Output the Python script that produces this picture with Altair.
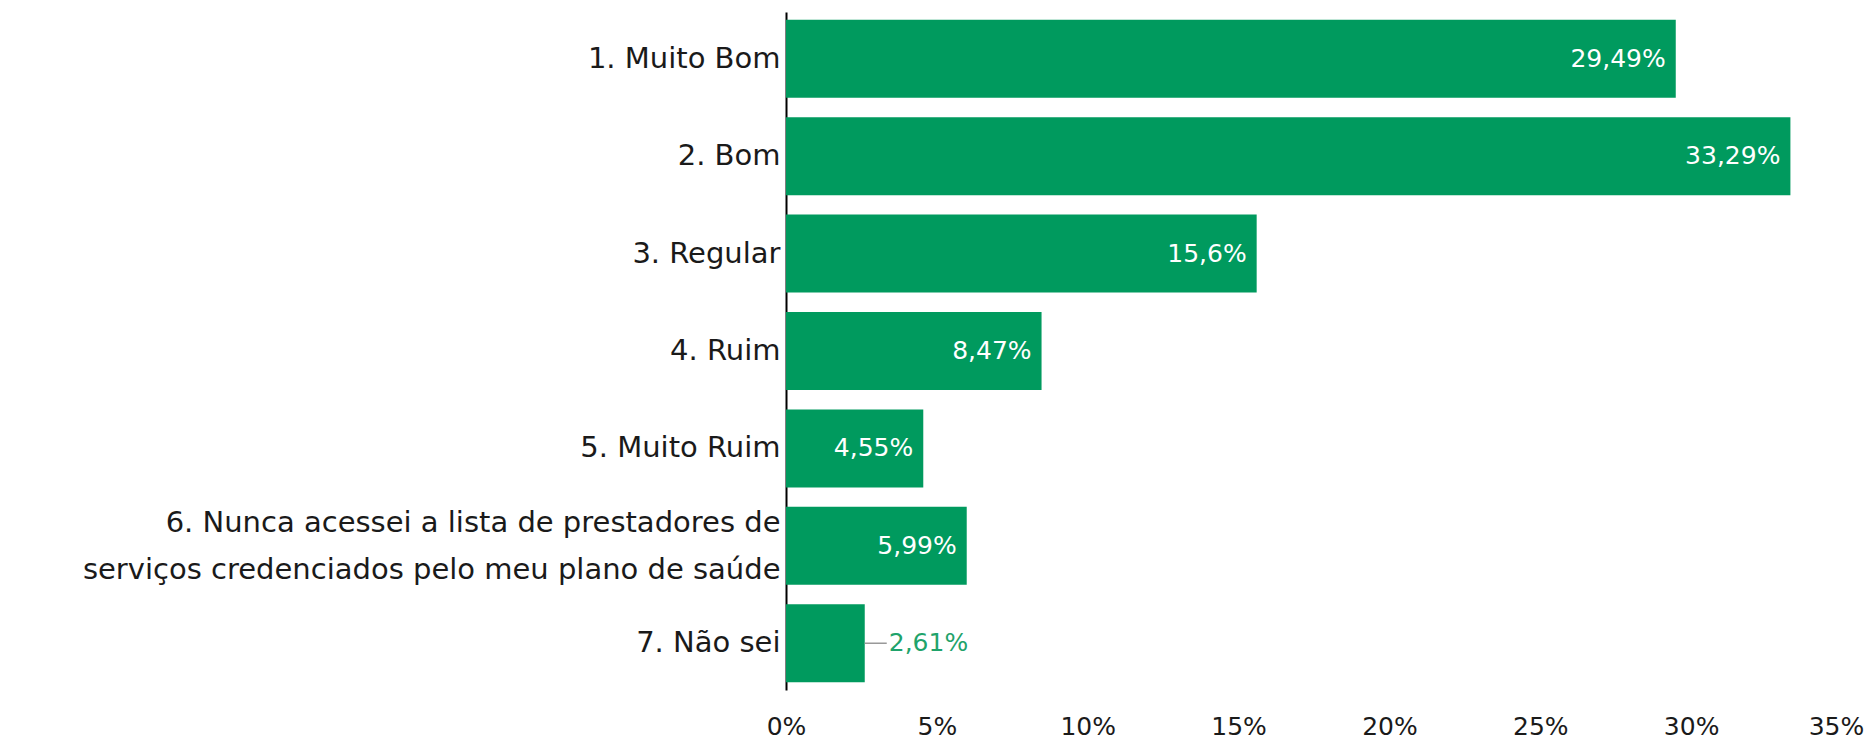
import altair as alt
import pandas as pd

categories = [
    "1. Muito Bom",
    "2. Bom",
    "3. Regular",
    "4. Ruim",
    "5. Muito Ruim",
    "6. Nunca acessei a lista de prestadores de|serviços credenciados pelo meu plano de saúde",
    "7. Não sei",
]
values = [29.49, 33.29, 15.6, 8.47, 4.55, 5.99, 2.61]
x_ticks = [0, 5, 10, 15, 20, 25, 30, 35]

df = pd.DataFrame({"cat": categories, "value": values})

FONT = "DejaVu Sans"
GREEN = "#009A5E"

y_enc = alt.Y(
    "cat:N",
    sort=categories,
    scale=alt.Scale(paddingInner=0.2, paddingOuter=0.08),
    axis=alt.Axis(
        title=None,
        labelExpr="split(datum.label, '|')",
        labelFontSize=29,
        labelFont=FONT,
        labelColor="#1a1a1a",
        labelPadding=6,
        labelLineHeight=47,
        labelOffset={"condition": {"test": "indexof(datum.label, '|') >= 0", "value": -23}, "value": 0},
        ticks=False,
        domainColor="#000000",
        domainWidth=2,
        labelLimit=1000,
    ),
)

x_enc = alt.X(
    "value:Q",
    scale=alt.Scale(domain=[0, 35], nice=False),
    axis=alt.Axis(
        title=None,
        values=x_ticks,
        labelExpr="datum.value + '%'",
        labelFontSize=25,
        labelFont=FONT,
        labelColor="#1a1a1a",
        labelPadding=24,
        labelFlush=False,
        labelOffset={"condition": {"test": "datum.value >= 35", "value": -6}, "value": 0},
        ticks=False,
        domain=False,
        grid=False,
    ),
)

base = alt.Chart(df).transform_calculate(
    label="replace(toString(datum.value), '.', ',') + '%'"
)

bars = base.mark_bar(color=GREEN).encode(x=x_enc, y=y_enc)

inside = base.transform_filter("datum.value >= 3").mark_text(
    align="right", baseline="middle", dx=-10, fontSize=25, font=FONT, color="white"
).encode(x="value:Q", y=alt.Y("cat:N", sort=categories), text="label:N")

outside = base.transform_filter("datum.value < 3").mark_text(
    align="left", baseline="middle", dx=24, fontSize=25, font=FONT, color="#1FA36B"
).encode(x="value:Q", y=alt.Y("cat:N", sort=categories), text="label:N")

leader = base.transform_filter("datum.value < 3").mark_rule(
    color="#999999", strokeWidth=1.5, x2Offset=22
).encode(x="value:Q", x2="value:Q", y=alt.Y("cat:N", sort=categories))

chart = (
    alt.layer(bars, leader, inside, outside)
    .properties(
        width=1056,
        height=678,
        autosize=alt.AutoSizeParams(type="none"),
        padding={"left": 778, "top": 4, "right": 25, "bottom": 50},
    )
    .configure_view(stroke=None)
)

chart.save("out.html", embed_options={"renderer": "svg", "actions": False})
